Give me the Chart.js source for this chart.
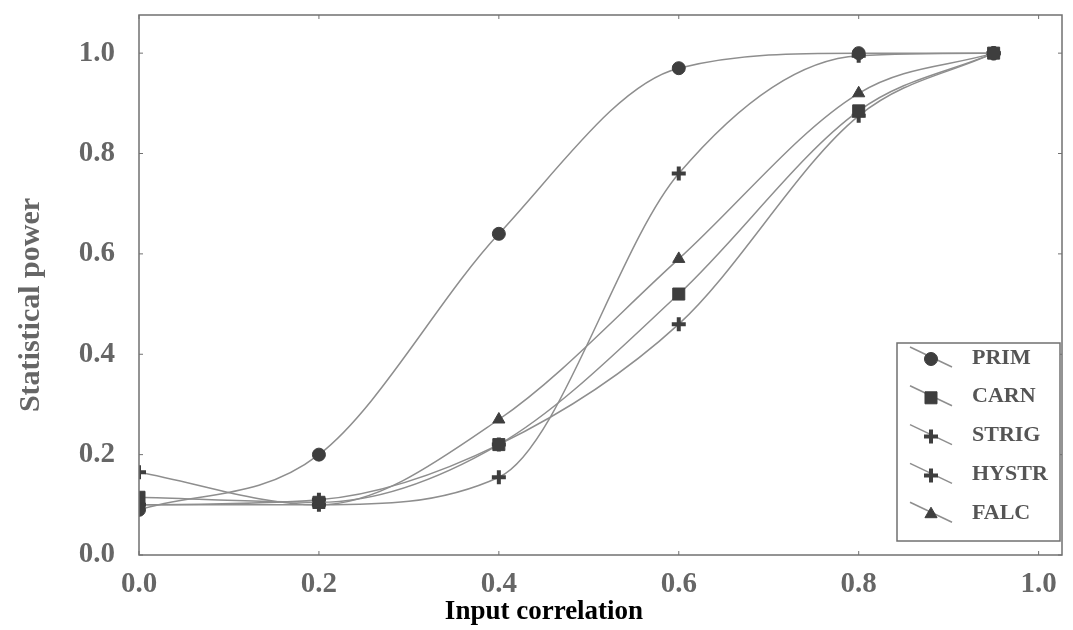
<!DOCTYPE html>
<html>
<head>
<meta charset="utf-8">
<script src="https://cdn.jsdelivr.net/npm/chart.js@4.4.1/dist/chart.umd.min.js"></script>
<style>
  html, body { margin: 0; padding: 0; background: #fff; }
  #wrap { width: 1073px; height: 630px; }
</style>
</head>
<body>
<div id="wrap"><canvas id="power-chart"></canvas></div>
<script>
// input correlation values where each series was measured
var correlation = [0, 0.2, 0.4, 0.6, 0.8, 0.95];

var prim  = [0.09, 0.20, 0.64, 0.97, 1.00, 1.00];
var carn  = [0.115, 0.105, 0.22, 0.52, 0.885, 1.00];
var strig = [0.10, 0.11, 0.22, 0.46, 0.875, 1.00];
var hystr = [0.165, 0.10, 0.155, 0.76, 0.995, 1.00];
var falc  = [0.10, 0.10, 0.27, 0.59, 0.92, 1.00];

var seriesNames = ['PRIM', 'CARN', 'STRIG', 'HYSTR', 'FALC'];
var xTicks = [0, 0.2, 0.4, 0.6, 0.8, 1.0];
var yTicks = [0, 0.2, 0.4, 0.6, 0.8, 1.0];

var lineColor = '#8e8e8e';
var markColor = '#3e3e3e';
var serif = "'Liberation Serif', 'DejaVu Serif', serif";

function toPoints(values) {
    return values.map(function(v, i) {
        return { x: correlation[i], y: v };
    });
}

function makeSet(label, values, style, radius, bw) {
    return {
        label: label,
        data: toPoints(values),
        borderColor: lineColor,
        borderWidth: 1.5,
        backgroundColor: markColor,
        pointStyle: style,
        pointRadius: radius,
        pointBackgroundColor: markColor,
        pointBorderColor: markColor,
        pointBorderWidth: bw,
        cubicInterpolationMode: 'monotone',
        fill: false
    };
}

var datasets = [
    makeSet(seriesNames[0], prim, 'circle', 6.5, 1),
    makeSet(seriesNames[1], carn, 'rect', 8.5, 1),
    makeSet(seriesNames[2], strig, 'cross', 7, 4),
    makeSet(seriesNames[3], hystr, 'cross', 7, 4),
    makeSet(seriesNames[4], falc, 'triangle', 7, 1)
];

// frame with small inward ticks, titles and the boxed legend
var decorations = {
    id: 'decorations',
    afterDatasetsDraw: function(chart) {
        var ctx = chart.ctx;
        var a = chart.chartArea;
        var xs = chart.scales.x, ys = chart.scales.y;
        ctx.save();
        ctx.strokeStyle = '#707070';
        ctx.lineWidth = 1.5;
        ctx.strokeRect(a.left, a.top, a.right - a.left, a.bottom - a.top);
        ctx.lineWidth = 1;
        xTicks.forEach(function(t) {
            var px = xs.getPixelForValue(t);
            ctx.beginPath();
            ctx.moveTo(px, a.bottom); ctx.lineTo(px, a.bottom - 4);
            ctx.moveTo(px, a.top); ctx.lineTo(px, a.top + 4);
            ctx.stroke();
        });
        yTicks.forEach(function(t) {
            var py = ys.getPixelForValue(t);
            ctx.beginPath();
            ctx.moveTo(a.left, py); ctx.lineTo(a.left + 4, py);
            ctx.moveTo(a.right, py); ctx.lineTo(a.right - 4, py);
            ctx.stroke();
        });

        // axis titles
        ctx.fillStyle = '#666';
        ctx.font = 'bold 30px ' + serif;
        ctx.textAlign = 'center';
        ctx.textBaseline = 'middle';
        ctx.save();
        ctx.translate(31, 305);
        ctx.rotate(-Math.PI / 2);
        ctx.fillText('Statistical power', 0, 0);
        ctx.restore();
        ctx.fillStyle = '#000';
        ctx.font = 'bold 27px ' + serif;
        ctx.fillText('Input correlation', 544, 612);

        // legend box
        var bx = 897, by = 343, bw = 163, bh = 198;
        ctx.fillStyle = '#fff';
        ctx.fillRect(bx, by, bw, bh);
        ctx.strokeStyle = '#707070';
        ctx.lineWidth = 1.5;
        ctx.strokeRect(bx, by, bw, bh);
        ctx.font = 'bold 22px ' + serif;
        ctx.textAlign = 'left';
        chart.data.datasets.forEach(function(ds, i) {
            var cy = 358 + i * 38.8;
            ctx.strokeStyle = lineColor;
            ctx.lineWidth = 1.5;
            ctx.beginPath();
            ctx.moveTo(910, cy - 11);
            ctx.lineTo(952, cy + 9);
            ctx.stroke();
            ctx.fillStyle = markColor;
            ctx.strokeStyle = markColor;
            ctx.lineWidth = ds.pointBorderWidth;
            Chart.helpers.drawPoint(ctx, {
                pointStyle: ds.pointStyle,
                radius: ds.pointRadius,
                borderWidth: ds.pointBorderWidth,
                rotation: 0
            }, 931, cy + 1);
            ctx.fillStyle = '#555';
            ctx.fillText(ds.label, 972, cy);
        });
        ctx.restore();
    }
};

var tickFont = { family: serif, size: 29, weight: 'bold' };

var config = {
    type: 'line',
    data: { datasets: datasets },
    options: {
        responsive: true,
        maintainAspectRatio: false,
        animation: false,
        layout: { padding: { top: 15, right: 5, left: 0, bottom: 0 } },
        plugins: {
            legend: { display: false },
            tooltip: { enabled: false }
        },
        scales: {
            x: {
                type: 'linear',
                min: 0,
                max: 1.026,
                grid: { display: false },
                border: { display: false },
                afterBuildTicks: function(scale) {
                    scale.ticks = xTicks.map(function(v) { return { value: v }; });
                },
                afterFit: function(scale) {
                    scale.height = 75;
                    scale.paddingLeft = 0;
                    scale.paddingRight = 0;
                },
                ticks: {
                    color: '#666',
                    font: tickFont,
                    padding: 4,
                    maxRotation: 0,
                    callback: function(v) { return v.toFixed(1); }
                }
            },
            y: {
                type: 'linear',
                min: 0,
                max: 1.076,
                grid: { display: false },
                border: { display: false },
                afterBuildTicks: function(scale) {
                    scale.ticks = yTicks.map(function(v) { return { value: v }; });
                },
                afterFit: function(scale) {
                    scale.width = 139;
                    scale.paddingTop = 0;
                    scale.paddingBottom = 0;
                },
                ticks: {
                    color: '#666',
                    font: tickFont,
                    padding: 16,
                    callback: function(v) { return v.toFixed(1); }
                }
            }
        }
    },
    plugins: [decorations]
};

var chart = new Chart(document.getElementById('power-chart').getContext('2d'), config);
</script>
</body>
</html>
